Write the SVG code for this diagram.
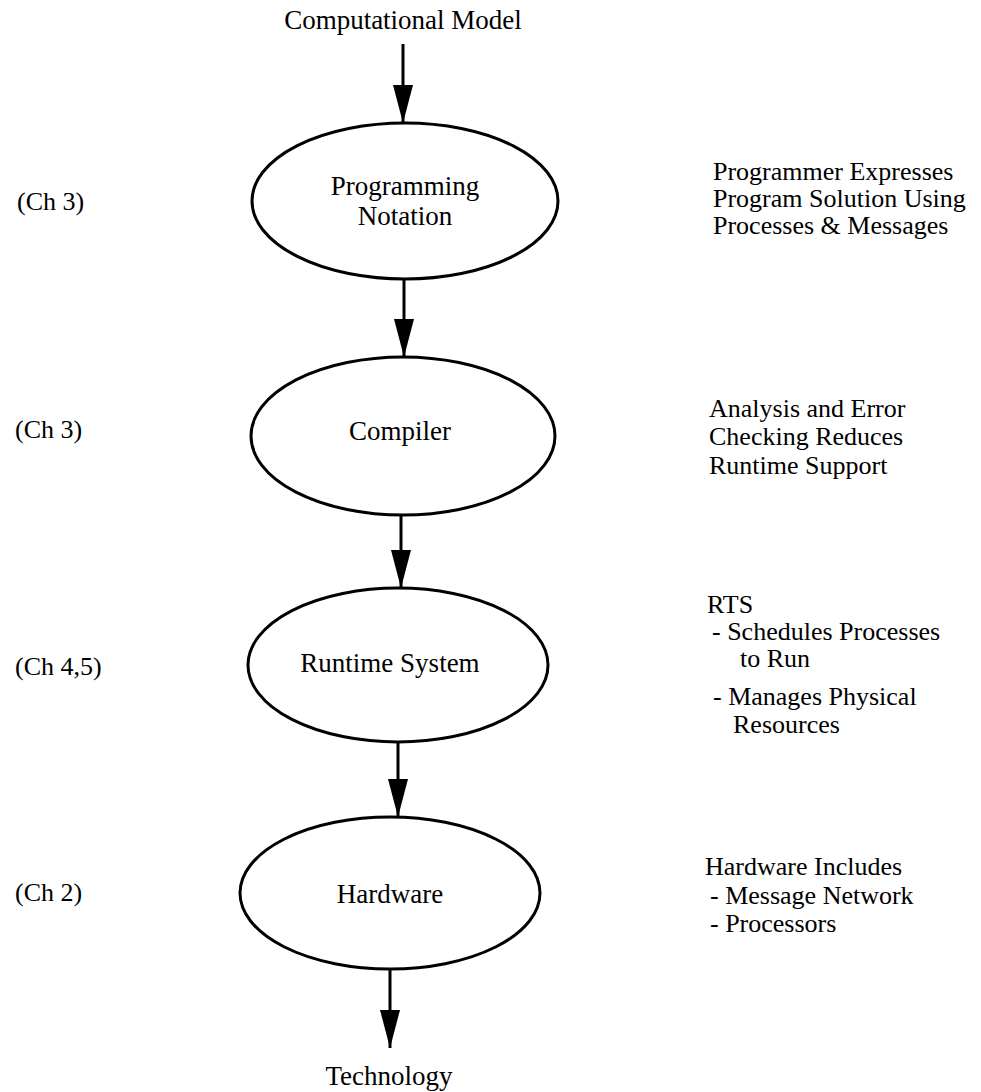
<svg xmlns="http://www.w3.org/2000/svg" width="981" height="1092" viewBox="0 0 981 1092">
  <style>
    text { font-family: "Liberation Serif", "Times New Roman", serif; fill: #000; }
    .lbl { font-size: 27px; text-anchor: middle; }
    .note { font-size: 26px; }
    .ch { font-size: 26px; }
    .node { fill: #fff; stroke: #000; stroke-width: 3; }
    .edge { stroke: #000; stroke-width: 3; fill: none; marker-end: url(#arrow); }
  </style>
  <defs>
    <!-- solid triangular head, tip placed at the line end -->
    <marker id="arrow" markerUnits="userSpaceOnUse" markerWidth="38" markerHeight="20" refX="38" refY="10" orient="auto" viewBox="0 0 38 20">
      <path d="M0,0 L38,10 L0,20 Z" fill="#000"/>
    </marker>
  </defs>

  <rect width="981" height="1092" fill="#fff"/>

  <!-- terminal labels -->
  <text class="lbl" x="403" y="29">Computational Model</text>
  <text class="lbl" x="389" y="1085">Technology</text>

  <!-- connectors -->
  <g id="connectors">
    <line class="edge" x1="403" y1="44" x2="403" y2="123"/>
    <line class="edge" x1="404" y1="280" x2="404" y2="357"/>
    <line class="edge" x1="401" y1="515" x2="401" y2="588"/>
    <line class="edge" x1="398" y1="743" x2="398" y2="817"/>
    <line class="edge" x1="390" y1="970" x2="390" y2="1048"/>
  </g>

  <g id="programming-notation">
    <ellipse class="node" cx="405" cy="201" rx="153" ry="78"/>
    <text class="lbl" x="405" y="195">Programming</text>
    <text class="lbl" x="405" y="225">Notation</text>
  </g>

  <g id="compiler">
    <ellipse class="node" cx="403" cy="436" rx="152" ry="79"/>
    <text class="lbl" x="400" y="440">Compiler</text>
  </g>

  <g id="runtime-system">
    <ellipse class="node" cx="398" cy="665" rx="150" ry="77"/>
    <text class="lbl" x="390" y="672">Runtime System</text>
  </g>

  <g id="hardware">
    <ellipse class="node" cx="390" cy="893" rx="150" ry="76"/>
    <text class="lbl" x="390" y="903">Hardware</text>
  </g>

  <!-- chapter references -->
  <g id="chapters">
    <text class="ch" x="17" y="210">(Ch 3)</text>
    <text class="ch" x="15" y="438">(Ch 3)</text>
    <text class="ch" x="15" y="675">(Ch 4,5)</text>
    <text class="ch" x="15" y="901">(Ch 2)</text>
  </g>

  <!-- side notes -->
  <g id="notes">
    <text class="note" x="713" y="180">Programmer Expresses</text>
    <text class="note" x="713" y="207">Program Solution Using</text>
    <text class="note" x="713" y="234">Processes &amp; Messages</text>

    <text class="note" x="709" y="417">Analysis and Error</text>
    <text class="note" x="709" y="445">Checking Reduces</text>
    <text class="note" x="709" y="474">Runtime Support</text>

    <text class="note" x="707" y="613">RTS</text>
    <text class="note" x="712" y="640">- Schedules Processes</text>
    <text class="note" x="740" y="667">to Run</text>
    <text class="note" x="713" y="705">- Manages Physical</text>
    <text class="note" x="733" y="733">Resources</text>

    <text class="note" x="705" y="875">Hardware Includes</text>
    <text class="note" x="710" y="904">- Message Network</text>
    <text class="note" x="710" y="932">- Processors</text>
  </g>
</svg>
